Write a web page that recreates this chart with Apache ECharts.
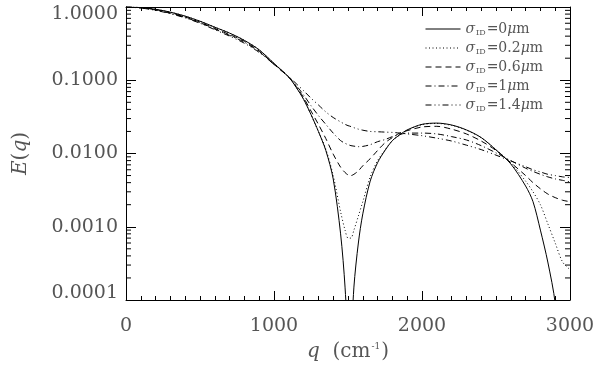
<!DOCTYPE html>
<html>
<head>
<meta charset="utf-8">
<script src="https://cdn.jsdelivr.net/npm/echarts@6/dist/echarts.min.js"></script>
<style>html,body{margin:0;padding:0;background:#fff;}#c{width:602px;height:372px;}</style>
</head>
<body>
<div id="c"></div>
<script>
// q grid (cm^-1)
const qValues = [0,100,200,300,400,500,600,700,800,900,1000,1100,
  1150,1200,1250,1300,1350,1400,1450,1480,1500,1510,1520,1540,1570,1600,1650,1700,1750,1800,1850,1900,
  2000,2100,2200,2300,2400,2500,2600,2700,2750,2800,2850,2900,2950,3000];
// sigma_ID labels
const sigmaLabels = ['0','0.2','0.6','1','1.4'];
// E(q) for each sigma_ID
const eSigma0 = [1.0,0.98,0.93,0.85,0.75,0.64,0.53,0.44,0.35,0.26,0.17,0.11,
  0.08,0.055,0.034,0.02,0.011,0.0045,0.0008,0.00015,0.00002,0.000001,0.00002,0.00015,0.0006,0.0015,0.0042,0.0075,0.011,0.015,0.018,0.021,
  0.025,0.026,0.0245,0.021,0.0165,0.0112,0.0072,0.0036,0.0022,0.0009,0.00033,0.00009,0.000005,0.000001];
const eSigma02 = [1.0,0.98,0.93,0.85,0.75,0.64,0.53,0.44,0.35,0.26,0.17,0.11,
  0.08,0.055,0.034,0.02,0.0115,0.005,0.0016,0.0009,0.0007,0.0007,0.0007,0.0009,0.0014,0.0022,0.0048,0.008,0.0112,0.015,0.018,0.0208,
  0.0248,0.0257,0.0242,0.0208,0.0164,0.0113,0.0074,0.0042,0.003,0.002,0.0011,0.0006,0.00033,0.00026];
const eSigma06 = [1.0,0.98,0.92,0.83,0.73,0.62,0.51,0.42,0.34,0.25,0.165,0.11,
  0.082,0.058,0.038,0.025,0.016,0.0098,0.0065,0.0055,0.0051,0.005,0.005,0.0052,0.0058,0.0068,0.0085,0.011,0.014,0.0165,0.019,0.0205,
  0.023,0.0235,0.0215,0.0185,0.0148,0.011,0.0075,0.005,0.004,0.0033,0.0028,0.0025,0.0023,0.0022];
const eSigma1 = [1.0,0.97,0.91,0.82,0.72,0.61,0.5,0.41,0.33,0.245,0.165,0.11,
  0.085,0.063,0.045,0.033,0.025,0.019,0.015,0.0138,0.0132,0.013,0.0128,0.0126,0.0124,0.0125,0.0132,0.0145,0.0155,0.017,0.0182,0.019,
  0.019,0.0185,0.017,0.0153,0.0128,0.0102,0.008,0.0063,0.0057,0.0052,0.0048,0.0045,0.0043,0.0041];
const eSigma14 = [1.0,0.97,0.9,0.81,0.71,0.6,0.49,0.4,0.32,0.24,0.165,0.112,
  0.09,0.072,0.057,0.046,0.037,0.031,0.027,0.025,0.024,0.0237,0.0233,0.0225,0.0215,0.0208,0.02,0.0198,0.0196,0.0194,0.019,0.0185,
  0.0175,0.0162,0.0148,0.013,0.0113,0.0095,0.0079,0.0066,0.006,0.0056,0.0052,0.005,0.0048,0.0047];
// y-axis tick labels and minor tick multipliers
const yTickLabels = ['0.0001','0.0010','0.0100','0.1000','1.0000'];
const xTickLabels = ['0','1000','2000','3000'];
const minorMult = [2,3,4,5,6,7,8,9];
const decades = [0.0001,0.001,0.01,0.1];

const allE = [eSigma0,eSigma02,eSigma06,eSigma1,eSigma14];
const dashes = ['solid',[1,2.5],[6,4],[6,3,1,3],[6,3,1,3,1,3]];
const names = sigmaLabels.map(s => 'sigma' + s);

const minorVals = [];
decades.forEach(d => minorMult.forEach(m => minorVals.push([0, d*m])));

const font = 'DejaVu Serif';
const lblColor = '#555';

const series = allE.map((arr, i) => ({
  name: names[i],
  type: 'line',
  data: qValues.map((q, j) => [q, arr[j]]),
  symbol: 'none',
  smooth: 0.3,
  clip: true,
  lineStyle: { color: '#000', width: 1, type: dashes[i] },
  itemStyle: { color: '#000' },
  z: 3
}));
series.push({
  type: 'custom',
  silent: true,
  data: minorVals,
  z: 4,
  renderItem: function (params, api) {
    const cs = params.coordSys;
    const p = api.coord([0, api.value(1)]);
    return {
      type: 'group',
      children: [
        { type: 'line', shape: { x1: cs.x, y1: p[1], x2: cs.x + 5, y2: p[1] }, style: { stroke: '#000', lineWidth: 1 } },
        { type: 'line', shape: { x1: cs.x + cs.width - 5, y1: p[1], x2: cs.x + cs.width, y2: p[1] }, style: { stroke: '#000', lineWidth: 1 } }
      ]
    };
  }
});

const chart = echarts.init(document.getElementById('c'), null, { renderer: 'canvas' });
chart.setOption({
  animation: false,
  backgroundColor: '#fff',
  grid: { left: 126, right: 32, top: 7, bottom: 72 },
  legend: {
    data: names,
    orient: 'vertical',
    left: 420,
    top: 17,
    itemWidth: 35,
    itemHeight: 14,
    itemGap: 4,
    itemStyle: { opacity: 0 },
    lineStyle: { width: 1 },
    formatter: function (name) {
      const i = names.indexOf(name);
      return '{s|σ}{sub|ID}{t|=' + sigmaLabels[i] + '}{m|μ}{t|m}';
    },
    textStyle: {
      color: lblColor,
      fontFamily: font,
      fontSize: 14,
      rich: {
        s: { fontFamily: font, fontSize: 14, color: lblColor, fontStyle: 'italic' },
        sub: { fontFamily: font, fontSize: 8, color: lblColor, verticalAlign: 'bottom', padding: [8, 1, 0, 1] },
        t: { fontFamily: font, fontSize: 14, color: lblColor },
        m: { fontFamily: font, fontSize: 14, color: lblColor, fontStyle: 'italic' }
      }
    }
  },
  xAxis: [{
    type: 'value',
    min: 0, max: 3000, interval: 1000,
    position: 'bottom',
    axisLine: { show: true, onZero: false, lineStyle: { color: '#000', width: 1 } },
    axisTick: { show: true, inside: true, length: 9, lineStyle: { color: '#000' } },
    minorTick: { show: true, splitNumber: 10, length: 4, lineStyle: { color: '#000' } },
    splitLine: { show: false },
    axisLabel: {
      color: lblColor, fontFamily: font, fontSize: 19, margin: 17,
      formatter: function (v) { return xTickLabels[Math.round(v / 1000)]; }
    },
    name: '{i|q}{t|  (cm}{sup|-1}{t|)}',
    nameLocation: 'middle',
    nameGap: 42,
    nameTextStyle: {
      rich: {
        i: { fontFamily: font, fontSize: 20, fontStyle: 'italic', color: lblColor },
        t: { fontFamily: font, fontSize: 20, color: lblColor },
        sup: { fontFamily: font, fontSize: 9, color: lblColor, verticalAlign: 'top', padding: [0, 1, 10, 1] }
      }
    }
  }, {
    type: 'value',
    min: 0, max: 3000, interval: 1000,
    position: 'top',
    axisLine: { show: true, onZero: false, lineStyle: { color: '#000', width: 1 } },
    axisTick: { show: true, inside: true, length: 9, lineStyle: { color: '#000' } },
    minorTick: { show: true, splitNumber: 10, length: 4, lineStyle: { color: '#000' } },
    splitLine: { show: false },
    axisLabel: { show: false }
  }],
  yAxis: [{
    type: 'log',
    logBase: 10,
    min: 0.0001, max: 1,
    position: 'left',
    axisLine: { show: true, onZero: false, lineStyle: { color: '#000', width: 1 } },
    axisTick: { show: true, inside: true, length: 10, lineStyle: { color: '#000' } },
    minorTick: { show: false },
    splitLine: { show: false },
    axisLabel: {
      color: lblColor, fontFamily: font, fontSize: 19, margin: 8,
      formatter: function (v) {
        const k = Math.round(Math.log10(v)) + 4;
        const s = yTickLabels[k];
        if (k === 4) return '{top|' + s + '}';
        if (k === 0) return '{bot|' + s + '}';
        return s;
      },
      rich: {
        top: { fontFamily: font, fontSize: 19, color: lblColor, padding: [14, 0, 0, 0] },
        bot: { fontFamily: font, fontSize: 19, color: lblColor, padding: [0, 0, 14, 0] }
      }
    },
    name: '{i|E}{t|(}{i|q}{t|)}',
    nameLocation: 'middle',
    nameGap: 95,
    nameRotate: 90,
    nameTextStyle: {
      rich: {
        i: { fontFamily: font, fontSize: 20, fontStyle: 'italic', color: lblColor },
        t: { fontFamily: font, fontSize: 20, color: lblColor }
      }
    }
  }, {
    type: 'log',
    logBase: 10,
    min: 0.0001, max: 1,
    position: 'right',
    axisLine: { show: true, onZero: false, lineStyle: { color: '#000', width: 1 } },
    axisTick: { show: true, inside: true, length: 10, lineStyle: { color: '#000' } },
    minorTick: { show: false },
    splitLine: { show: false },
    axisLabel: { show: false }
  }],
  series: series
});
</script>
</body>
</html>
